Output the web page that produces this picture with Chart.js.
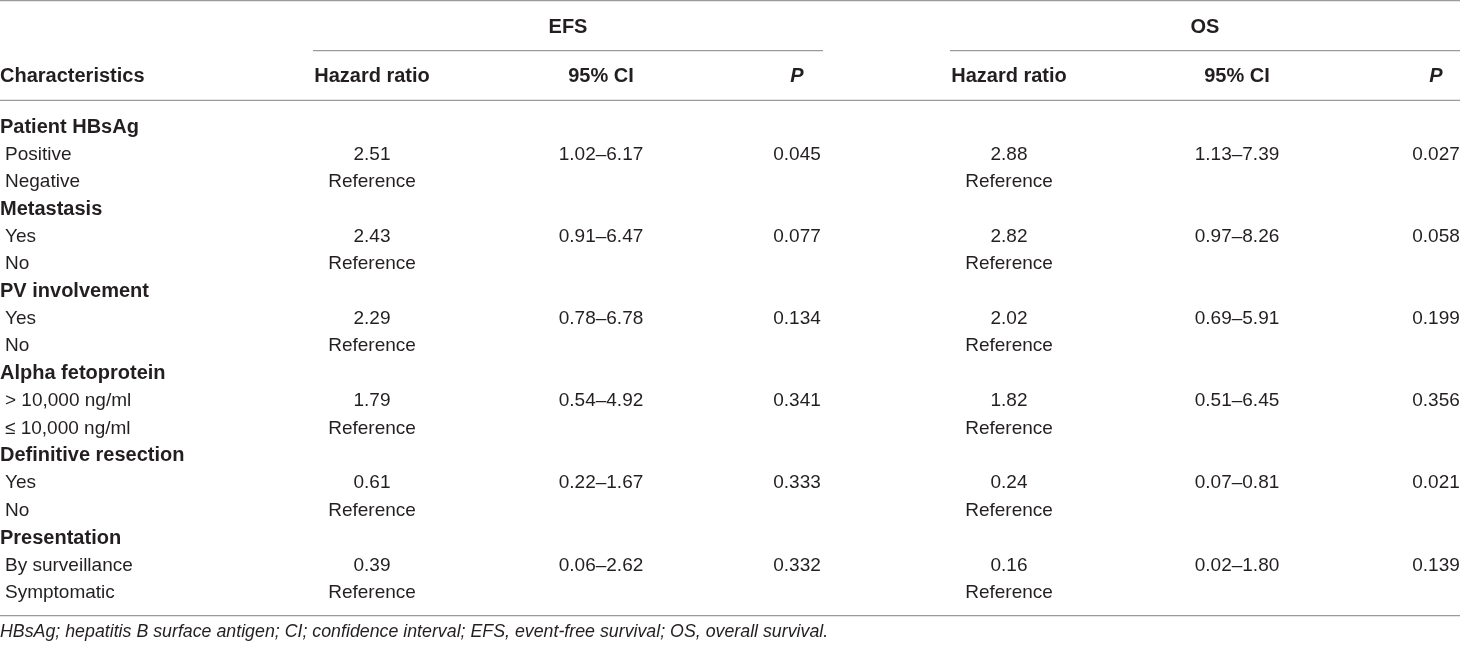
<!DOCTYPE html>
<html>
<head>
<meta charset="utf-8">
<script src="https://cdn.jsdelivr.net/npm/chart.js@4.4.1/dist/chart.umd.min.js"></script>
<style>
  html, body { margin: 0; padding: 0; background: #fff; }
  #wrap { width: 1460px; height: 647px; position: relative; }
</style>
</head>
<body>
<div id="wrap"><canvas id="myChart"></canvas></div>
<script>
// table content
const groupNames = ["Patient HBsAg", "Metastasis", "PV involvement", "Alpha fetoprotein", "Definitive resection", "Presentation"];
const levelNames = [
  ["Positive", "Negative"],
  ["Yes", "No"],
  ["Yes", "No"],
  ["> 10,000 ng/ml", "\u2264 10,000 ng/ml"],
  ["Yes", "No"],
  ["By surveillance", "Symptomatic"]
];
const efsHazard = [2.51, 2.43, 2.29, 1.79, 0.61, 0.39];
const efsLower = [1.02, 0.91, 0.78, 0.54, 0.22, 0.06];
const efsUpper = [6.17, 6.47, 6.78, 4.92, 1.67, 2.62];
const efsP = [0.045, 0.077, 0.134, 0.341, 0.333, 0.332];
const osHazard = [2.88, 2.82, 2.02, 1.82, 0.24, 0.16];
const osLower = [1.13, 0.97, 0.69, 0.51, 0.07, 0.02];
const osUpper = [7.39, 8.26, 5.91, 6.45, 0.81, 1.80];
const osP = [0.027, 0.058, 0.199, 0.356, 0.021, 0.139];
const refText = "Reference";
const headers = ["Characteristics", "Hazard ratio", "95% CI", "P"];
const spanners = ["EFS", "OS"];
const footnote = "HBsAg; hepatitis B surface antigen; CI; confidence interval; EFS, event-free survival; OS, overall survival.";

// row labels for the y axis (group row + two level rows each)
let rowLabels = [];
groupNames.forEach((g, i) => {
  rowLabels.push(g);
  rowLabels.push(levelNames[i][0]);
  rowLabels.push(levelNames[i][1]);
});

// column anchors in x-scale units
const colLayout = {
  label: 0, indent: 5,
  efs: { from: 313, to: 823, hr: 372, ci: 601, p: 797 },
  os: { from: 950, to: 1460, hr: 1009, ci: 1237, p: 1436 }
};

const FONT = '"Liberation Sans", Arial, Helvetica, sans-serif';
const textColor = "#231f20";
const ruleColor = "#9b9b9b";

const tablePlugin = {
  id: "tablePlugin",
  afterDraw(chart) {
    const c = chart.ctx;
    const xs = chart.scales.x;
    const ys = chart.scales.y;
    const area = chart.chartArea;
    const X = (v) => xs.getPixelForValue(v);
    const Y = (i) => ys.getPixelForValue(i);

    function txt(s, x, y, align, font) {
      c.font = font;
      c.textAlign = align;
      c.textBaseline = "middle";
      c.fillStyle = textColor;
      c.fillText(s, x, y);
    }
    function rule(x1, x2, y) {
      c.beginPath();
      c.strokeStyle = ruleColor;
      c.lineWidth = 1.3;
      c.moveTo(x1, y);
      c.lineTo(x2, y);
      c.stroke();
    }

    c.save();
    const bold = "bold 20px " + FONT;
    const reg = "19px " + FONT;

    // rules
    rule(X(0), X(1460), area.top - 112.6);
    rule(X(colLayout.efs.from), X(colLayout.efs.to), area.top - 62.6);
    rule(X(colLayout.os.from), X(colLayout.os.to), area.top - 62.6);
    rule(X(0), X(1460), area.top - 13);
    rule(X(0), X(1460), area.bottom + 9.2);

    // header
    const hy = area.top - 37.3;
    const sy = area.top - 86;
    txt(spanners[0], X((colLayout.efs.from + colLayout.efs.to) / 2), sy, "center", bold);
    txt(spanners[1], X((colLayout.os.from + colLayout.os.to) / 2), sy, "center", bold);
    txt(headers[0], X(colLayout.label), hy, "left", bold);
    [colLayout.efs, colLayout.os].forEach((g) => {
      txt(headers[1], X(g.hr), hy, "center", bold);
      txt(headers[2], X(g.ci), hy, "center", bold);
      txt(headers[3], X(g.p), hy, "center", "italic " + bold);
    });

    // body
    groupNames.forEach((g, i) => {
      const r = i * 3;
      txt(g, X(colLayout.label), Y(r), "left", bold);
      txt(levelNames[i][0], X(colLayout.indent), Y(r + 1), "left", reg);
      txt(levelNames[i][1], X(colLayout.indent), Y(r + 2), "left", reg);

      txt(efsHazard[i].toFixed(2), X(colLayout.efs.hr), Y(r + 1), "center", reg);
      txt(efsLower[i].toFixed(2) + "\u2013" + efsUpper[i].toFixed(2), X(colLayout.efs.ci), Y(r + 1), "center", reg);
      txt(efsP[i].toFixed(3), X(colLayout.efs.p), Y(r + 1), "center", reg);
      txt(refText, X(colLayout.efs.hr), Y(r + 2), "center", reg);

      txt(osHazard[i].toFixed(2), X(colLayout.os.hr), Y(r + 1), "center", reg);
      txt(osLower[i].toFixed(2) + "\u2013" + osUpper[i].toFixed(2), X(colLayout.os.ci), Y(r + 1), "center", reg);
      txt(osP[i].toFixed(3), X(colLayout.os.p), Y(r + 1), "center", reg);
      txt(refText, X(colLayout.os.hr), Y(r + 2), "center", reg);
    });

    // footnote
    txt(footnote, X(0), area.bottom + 26, "left", "italic 17.8px " + FONT);
    c.restore();
  }
};

const ctx = document.getElementById("myChart");
const myChart = new Chart(ctx, {
  type: "scatter",
  data: { datasets: [] },
  options: {
    responsive: true,
    maintainAspectRatio: false,
    animation: false,
    devicePixelRatio: 1,
    layout: { padding: { top: 113.3, bottom: 40.5, left: 0, right: 0 } },
    plugins: { legend: { display: false }, tooltip: { enabled: false } },
    scales: {
      x: { type: "linear", min: 0, max: 1460, display: false },
      y: { type: "category", labels: rowLabels, offset: true, display: false }
    }
  },
  plugins: [tablePlugin]
});
</script>
</body>
</html>
